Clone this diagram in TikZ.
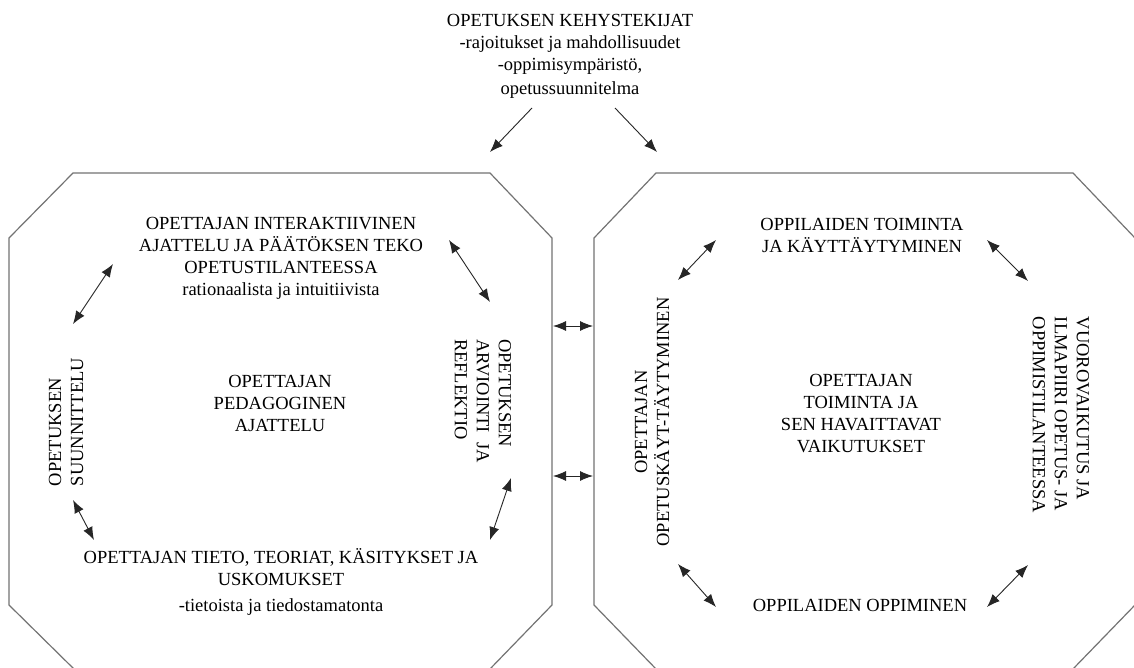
\documentclass[tikz,border=0pt]{standalone}
\usepackage{fontspec}
\setmainfont{Liberation Serif}
\usetikzlibrary{arrows.meta}

\begin{document}
\begin{tikzpicture}[x=1pt,y=-1pt,
        rim/.style={draw=black!55,line width=1.2pt},
        txt/.style={font=\fontsize{18.5}{22}\selectfont,align=center,inner sep=0pt},
        twoway/.style={draw=black!85,line width=0.9pt,{Latex[length=13pt,width=10pt]}-{Latex[length=13pt,width=10pt]}},
        oneway/.style={draw=black!85,line width=0.9pt,-{Latex[length=13pt,width=10pt]}}]
    \useasboundingbox (0,0) rectangle (1134,668);
    \fill[white] (0,0) rectangle (1134,668);

    \draw[rim] (73,173) -- (490,173) -- (552,238) -- (552,605) -- (489,670)
        -- (75,670) -- (9,605) -- (9,238) -- cycle;
    \draw[rim] (656,173) -- (1073,173) -- (1135,238) -- (1135,605) -- (1072,670)
        -- (657,670) -- (594,605) -- (594,238) -- cycle;

    \begin{scope}[every node/.style={txt}]
        \node (frame) at (570,56) {OPETUKSEN KEHYSTEKIJAT\\-rajoitukset ja mahdollisuudet\\-oppimisympäristö,\\[2pt]opetussuunnitelma};
        \node (think) at (281,258) {OPETTAJAN INTERAKTIIVINEN\\AJATTELU JA PÄÄTÖKSEN TEKO\\OPETUSTILANTEESSA\\rationaalista ja intuitiivista};
        \node (ped) at (280,403) {OPETTAJAN\\PEDAGOGINEN\\AJATTELU};
        \node (know) at (281,582) {OPETTAJAN TIETO, TEORIAT, KÄSITYKSET JA\\USKOMUKSET\\[4pt]-tietoista ja tiedostamatonta};
        \node[rotate=90,align=left] (plan) at (66,422) {OPETUKSEN\\SUUNNITTELU};
        \node[rotate=-90,align=left] (eval) at (483,401) {OPETUKSEN\\ARVIOINTI\ \ JA\\REFLEKTIO};
        \node (act) at (862,235) {OPPILAIDEN TOIMINTA\\JA KÄYTTÄYTYMINEN};
        \node (work) at (861,414) {OPETTAJAN\\TOIMINTA JA\\SEN HAVAITTAVAT\\VAIKUTUKSET};
        \node (learn) at (860,605) {OPPILAIDEN OPPIMINEN};
        \node[rotate=90] (behav) at (652,422) {OPETTAJAN\\OPETUSKÄYT-TÄYTYMINEN};
        \node[rotate=-90,align=left] (climate) at (1061,415) {VUOROVAIKUTUS JA\\ILMAPIIRI OPETUS- JA\\OPPIMISTILANTEESSA};
    \end{scope}

    \coordinate (t1) at (532,108);  \coordinate (t2) at (490,152);
    \coordinate (t3) at (615,108);  \coordinate (t4) at (657,152);
    \coordinate (l1) at (73,324);   \coordinate (l2) at (113,264);
    \coordinate (l3) at (449,240);  \coordinate (l4) at (490,302);
    \coordinate (l5) at (73,500);   \coordinate (l6) at (94,540);
    \coordinate (l7) at (511,478);  \coordinate (l8) at (490,540);
    \coordinate (m1) at (553,326);  \coordinate (m2) at (593,326);
    \coordinate (m3) at (553,476);  \coordinate (m4) at (593,476);
    \coordinate (r1) at (678,280);  \coordinate (r2) at (716,240);
    \coordinate (r3) at (987,240);  \coordinate (r4) at (1028,281);
    \coordinate (r5) at (678,564);  \coordinate (r6) at (716,607);
    \coordinate (r7) at (987,607);  \coordinate (r8) at (1028,565);

    \begin{scope}[every edge/.style={oneway}]
        \path
            (t1) edge (t2)
            (t3) edge (t4);
    \end{scope}
    \begin{scope}[every edge/.style={twoway}]
        \path
            (l1) edge (l2)
            (l3) edge (l4)
            (l5) edge (l6)
            (l7) edge (l8)
            (m1) edge (m2)
            (m3) edge (m4)
            (r1) edge (r2)
            (r3) edge (r4)
            (r5) edge (r6)
            (r7) edge (r8);
    \end{scope}
\end{tikzpicture}
\end{document}
